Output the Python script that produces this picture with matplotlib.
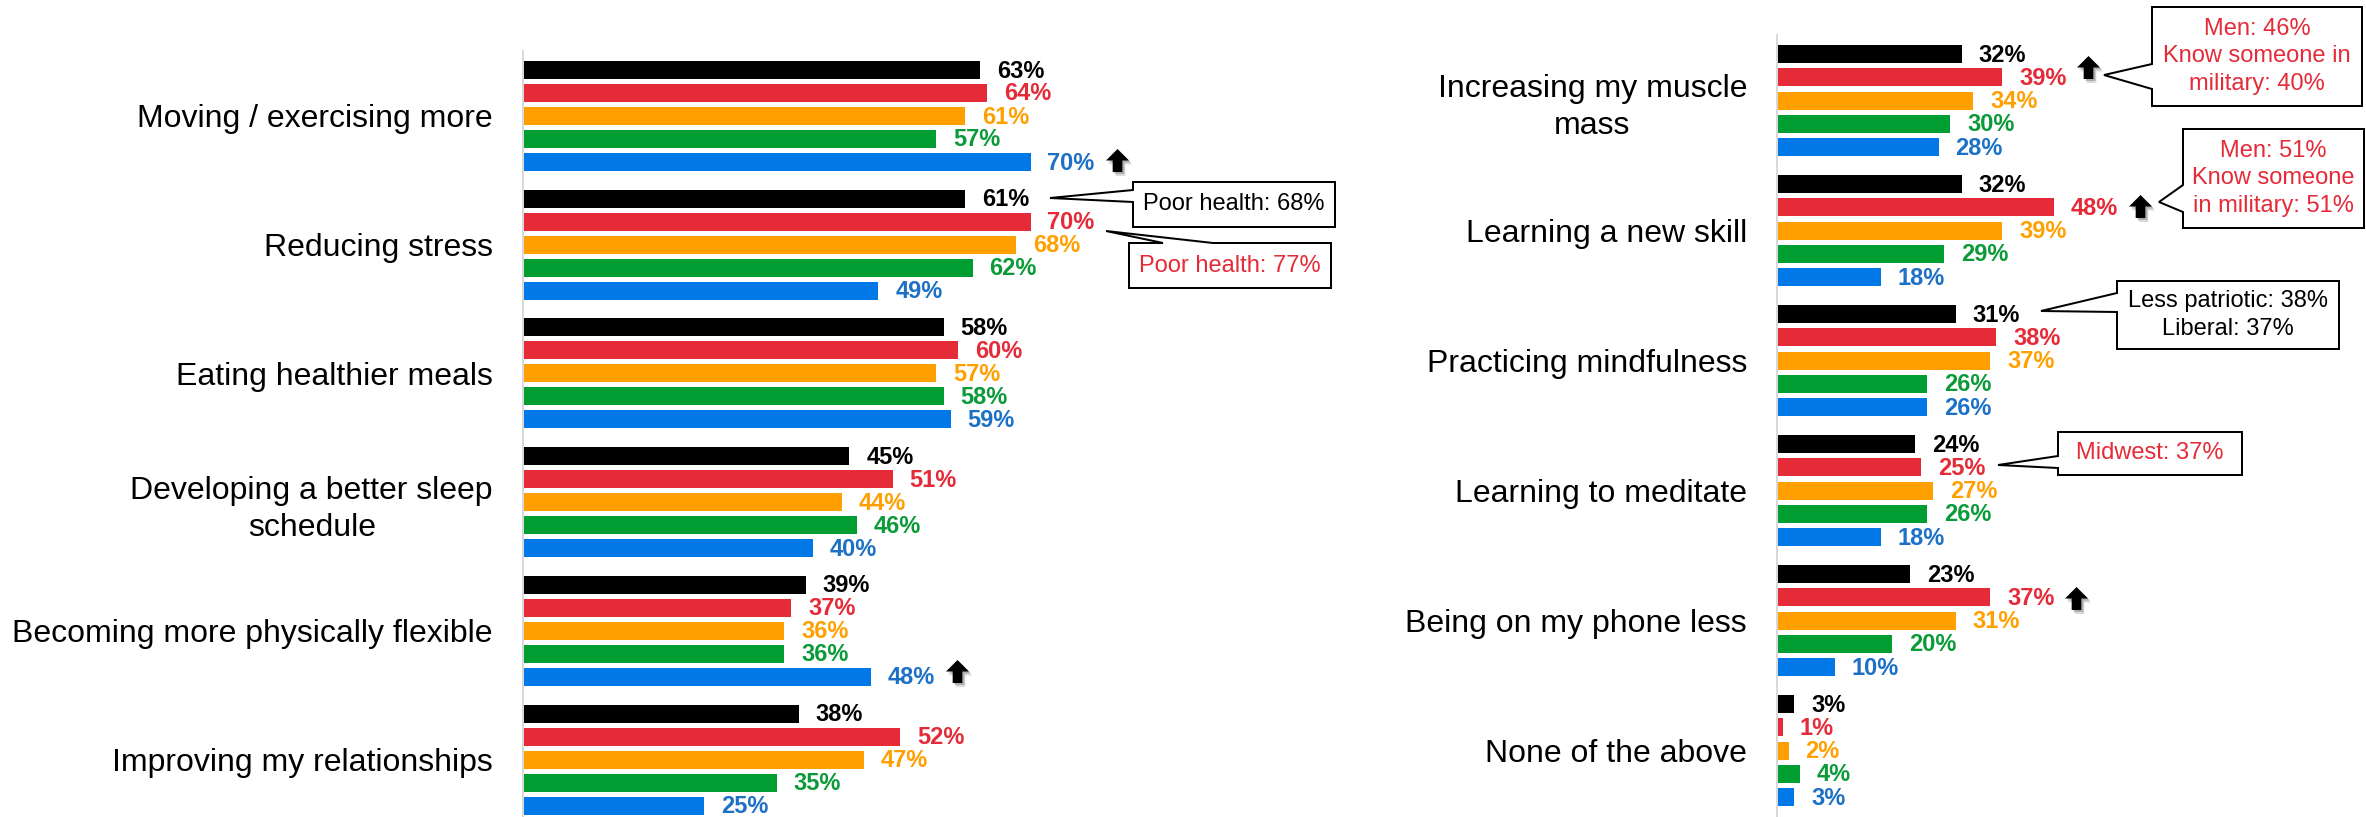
import matplotlib
matplotlib.use("Agg")
import matplotlib.pyplot as plt
from matplotlib import transforms
from matplotlib.path import Path
from matplotlib.patches import Polygon

plt.rcParams["font.family"] = ["Liberation Sans", "DejaVu Sans"]

# Data
left_categories = ["Moving / exercising more", "Reducing stress", "Eating healthier meals",
                   "Developing a better sleep\nschedule", "Becoming more physically flexible",
                   "Improving my relationships"]
left_black = [63, 61, 58, 45, 39, 38]
left_red = [64, 70, 60, 51, 37, 52]
left_orange = [61, 68, 57, 44, 36, 47]
left_green = [57, 62, 58, 46, 36, 35]
left_blue = [70, 49, 59, 40, 48, 25]

right_categories = ["Increasing my muscle\nmass", "Learning a new skill", "Practicing mindfulness",
                    "Learning to meditate", "Being on my phone less", "None of the above"]
right_black = [32, 32, 31, 24, 23, 3]
right_red = [39, 48, 38, 25, 37, 1]
right_orange = [34, 39, 37, 27, 31, 2]
right_green = [30, 29, 26, 26, 20, 4]
right_blue = [28, 18, 26, 18, 10, 3]

bar_colors = ["#000000", "#E52A38", "#FFA000", "#009D33", "#0078E8"]
text_colors = ["#000000", "#E52A38", "#FFA000", "#0A9A38", "#1C70C6"]

W, H = 2366, 817
fig = plt.figure(figsize=(W / 100, H / 100), dpi=100)
px = transforms.Affine2D().scale(1 / W, -1 / H).translate(0, 1) + fig.transFigure
PT = 0.72  # points per pixel

arrow = Path([(0, 1), (1, 0.0), (0.42, 0.0), (0.42, -1), (-0.42, -1), (-0.42, 0.0),
              (-1, 0.0), (0, 1)], closed=True)


def panel(left_px, top_px, px_per_pct, bar_px, group_px, cats, series, arrows):
    ax = fig.add_axes([left_px / W, 0, 100 * px_per_pct / W, (H - top_px) / H])
    gstep = group_px / bar_px
    top = -19 / bar_px
    ax.set_xlim(0, 100)
    ax.set_ylim(top + (H - top_px) / bar_px, top)
    for j, vals in enumerate(series):
        ys = [g * gstep + j for g in range(len(vals))]
        ax.barh(ys, vals, height=18 / bar_px, color=bar_colors[j])
        for v, y in zip(vals, ys):
            ax.annotate(f"{v}%", (v, y), xytext=(17 * PT, -1 * PT), textcoords="offset points",
                        va="center", ha="left", fontsize=17, fontweight="bold",
                        color=text_colors[j])
    for g, j, dy in arrows:
        v = series[j][g]
        y = g * gstep + j
        for sx, sy, c, a in [(3, -4, "#999999", 0.35), (2, -2, "#666666", 0.4), (0, 0, "black", 1)]:
            tr = transforms.offset_copy(ax.transData, fig=fig, x=(86 + sx) * PT,
                                        y=(dy + sy) * PT, units="points")
            ax.plot([v], [y], marker=arrow, ms=23 * PT, color=c, alpha=a, mew=0,
                    transform=tr, clip_on=False)
    ax.set_yticks([g * gstep + 2 for g in range(len(cats))])
    ax.set_yticklabels(cats, fontsize=23, linespacing=1.3)
    for t in ax.get_yticklabels():
        t.set_multialignment("center")
    ax.tick_params(axis="y", length=0, pad=30 * PT)
    ax.set_xticks([])
    for s in ["top", "right", "bottom"]:
        ax.spines[s].set_visible(False)
    ax.spines["left"].set_color("#D9D9D9")
    ax.spines["left"].set_linewidth(2 * PT)
    return ax


panel(523, 51, 7.25, 23, 128.7, left_categories,
      [left_black, left_red, left_orange, left_green, left_blue],
      [(0, 4, 2), (4, 4, 6)])
panel(1777, 35, 5.77, 23.33, 130, right_categories,
      [right_black, right_red, right_orange, right_green, right_blue],
      [(0, 1, 10), (1, 1, 1), (4, 1, -1)])


def callout(box, tip, base, side, text, color):
    x0, y0, x1, y1 = box
    b0, b1 = base
    if side == "left":
        verts = [(x0, y0), (x1, y0), (x1, y1), (x0, y1), (x0, b1), tip, (x0, b0)]
    else:
        verts = [(x0, y0), (b0, y0), tip, (b1, y0), (x1, y0), (x1, y1), (x0, y1)]
    fig.add_artist(Polygon(verts, closed=True, transform=px, fc="white", ec="black",
                           lw=2 * PT, joinstyle="miter"))
    fig.text((x0 + x1) / 2, (y0 + y1) / 2, text, transform=px, ha="center", va="center",
             fontsize=17, color=color, linespacing=1.3)


red = text_colors[1]
callout((1133, 182, 1335, 227), (1050, 198), (190, 202), "left", "Poor health: 68%", "black")
callout((1129, 243, 1331, 288), (1106, 231), (1163, 1213), "top", "Poor health: 77%", red)
callout((2152, 7, 2362, 106), (2104, 75), (64, 89), "left",
        "Men: 46%\nKnow someone in\nmilitary: 40%", red)
callout((2183, 129, 2364, 228), (2159, 202), (185, 212), "left",
        "Men: 51%\nKnow someone\nin military: 51%", red)
callout((2117, 281, 2339, 349), (2041, 311), (293, 312), "left",
        "Less patriotic: 38%\nLiberal: 37%", "black")
callout((2058, 432, 2242, 475), (1998, 465), (456, 468), "left", "Midwest: 37%", red)

fig.savefig("out.png", dpi=100)
